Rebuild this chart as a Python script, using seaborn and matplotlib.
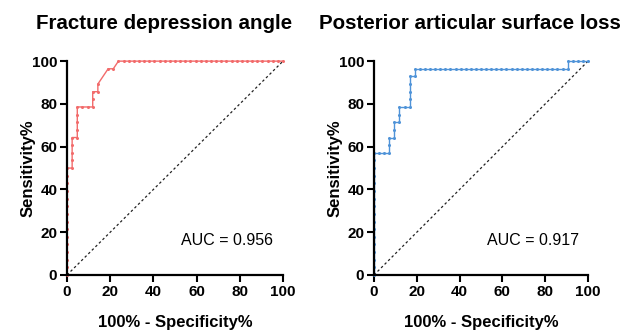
import numpy as np
import pandas as pd
import matplotlib
matplotlib.use("Agg")
import matplotlib.pyplot as plt
import seaborn as sns

# ROC points, as counts (42 negatives, 28 positives)
n_neg = 42
n_pos = 28

angle_fp = [0, 0, 0, 0, 0, 0, 0, 0, 0, 0, 0, 0, 0, 0, 0,
            1, 1, 1, 1, 1,
            2, 2, 2, 2, 2,
            3, 4, 5, 5, 5,
            6, 6, 8, 9, 10,
            11, 12, 13, 14, 15, 16, 17, 18, 19, 20, 21, 22, 23, 24, 25, 26,
            27, 28, 29, 30, 31, 32, 33, 34, 35, 36, 37, 38, 39, 40, 41, 42]
angle_tp = [0, 1, 2, 3, 4, 5, 6, 7, 8, 9, 10, 11, 12, 13, 14,
            14, 15, 16, 17, 18,
            18, 19, 20, 21, 22,
            22, 22, 22, 23, 24,
            24, 25, 27, 27, 28,
            28, 28, 28, 28, 28, 28, 28, 28, 28, 28, 28, 28, 28, 28, 28, 28,
            28, 28, 28, 28, 28, 28, 28, 28, 28, 28, 28, 28, 28, 28, 28, 28]

loss_fp = [0, 0, 0, 0, 0, 0, 0, 0, 0, 0, 0, 0, 0, 0, 0, 0, 0,
           1, 2, 3, 3, 3,
           4, 4, 4,
           5, 5, 5,
           6, 7, 7, 7, 7, 7,
           8, 8,
           9, 10, 11, 12, 13, 14, 15, 16, 17, 18, 19, 20, 21, 22, 23,
           24, 25, 26, 27, 28, 29, 30, 31, 32, 33, 34, 35, 36, 37, 38,
           38, 39, 40, 41, 42]
loss_tp = [0, 1, 2, 3, 4, 5, 6, 7, 8, 9, 10, 11, 12, 13, 14, 15, 16,
           16, 16, 16, 17, 18,
           18, 19, 20,
           20, 21, 22,
           22, 22, 23, 24, 25, 26,
           26, 27,
           27, 27, 27, 27, 27, 27, 27, 27, 27, 27, 27, 27, 27, 27, 27,
           27, 27, 27, 27, 27, 27, 27, 27, 27, 27, 27, 27, 27, 27, 27,
           28, 28, 28, 28, 28]

titles = ["Fracture depression angle", "Posterior articular surface loss"]
auc_labels = ["AUC = 0.956", "AUC = 0.917"]
colors = ["#f26b6b", "#4f93d8"]

df_angle = pd.DataFrame({"fpr": np.array(angle_fp) / n_neg * 100,
                         "tpr": np.array(angle_tp) / n_pos * 100})
df_loss = pd.DataFrame({"fpr": np.array(loss_fp) / n_neg * 100,
                        "tpr": np.array(loss_tp) / n_pos * 100})

sns.set_style("ticks")
plt.rcParams['font.family'] = ['Liberation Sans', 'DejaVu Sans']
plt.rcParams['text.color'] = 'black'
plt.rcParams['axes.labelcolor'] = 'black'
plt.rcParams['xtick.color'] = 'black'
plt.rcParams['ytick.color'] = 'black'
plt.rcParams['axes.edgecolor'] = 'black'

fig = plt.figure(figsize=(6.25, 3.3), dpi=100)
ax1 = fig.add_axes([0.1072, 0.1667, 0.3456, 0.648])
ax2 = fig.add_axes([0.5984, 0.1667, 0.3424, 0.648])

for ax, d, title, auc, col in zip([ax1, ax2], [df_angle, df_loss], titles, auc_labels, colors):
    ax.plot([0, 100], [0, 100], color="#222222", linestyle=(0, (2, 2)), linewidth=0.9, clip_on=False)
    sns.lineplot(data=d, x="fpr", y="tpr", ax=ax, sort=False, estimator=None,
                 color=col, linewidth=1.0, marker="o", markersize=2.2,
                 markeredgewidth=0, clip_on=False)
    ax.set_xlim(0, 100)
    ax.set_ylim(0, 100)
    ax.set_xticks([0, 20, 40, 60, 80, 100])
    ax.set_yticks([0, 20, 40, 60, 80, 100])
    ax.set_title(title, fontsize=14.8, fontweight="bold", pad=23, x=0.449)
    ax.set_xlabel("100% - Specificity%", fontsize=12, fontweight="bold", labelpad=12)
    ax.set_ylabel("Sensitivity%", fontsize=12, fontweight="bold", labelpad=-3)
    ax.text(53, 16, auc, fontsize=11.5, va="center", ha="left")
    for lab in ax.get_xticklabels() + ax.get_yticklabels():
        lab.set_fontweight("bold")
        lab.set_fontsize(11)
    ax.tick_params(width=1.5, length=5, pad=2)
    for s in ["left", "bottom"]:
        ax.spines[s].set_linewidth(1.6)
    sns.despine(ax=ax)

fig.savefig("out.png", dpi=100)
